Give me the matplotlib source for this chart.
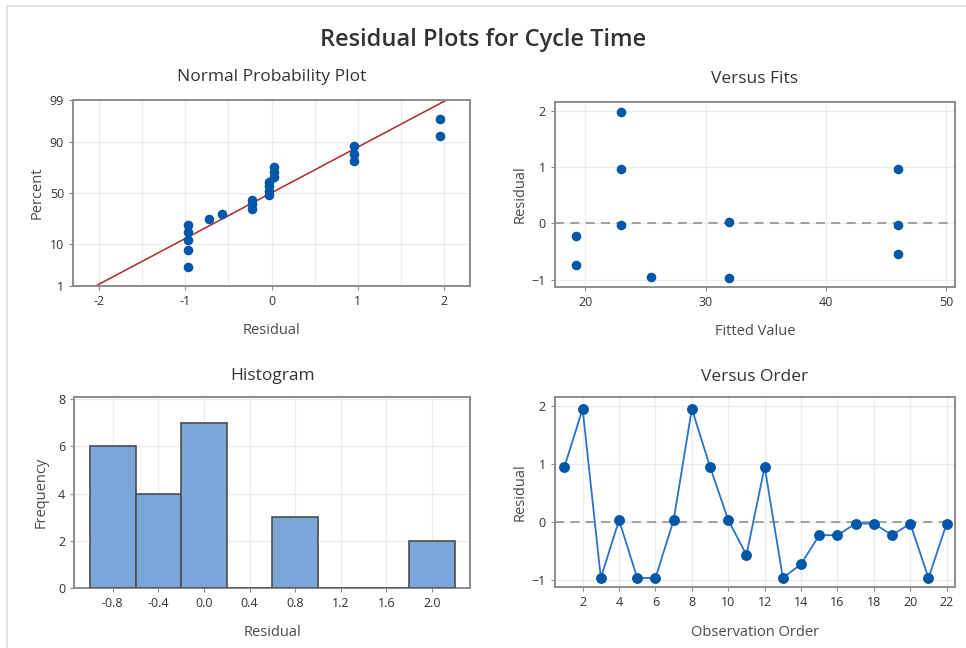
import matplotlib
matplotlib.use("Agg")
import matplotlib.pyplot as plt
import numpy as np
from statistics import NormalDist
from matplotlib.lines import Line2D

plt.rcParams['font.family'] = ['Open Sans', 'DejaVu Sans']

# ---- data ----
order = list(range(1, 23))
residuals = [0.95, 1.95, -0.97, 0.03, -0.97, -0.97, 0.03, 1.95, 0.95, 0.03, -0.57,
             0.95, -0.97, -0.73, -0.23, -0.23, -0.03, -0.03, -0.23, -0.03, -0.97, -0.03]
fitted_x = [19.25, 19.25, 23.0, 23.0, 23.0, 25.5, 31.95, 31.95, 45.95, 45.95, 45.95]
fitted_resid = [-0.23, -0.73, 1.97, 0.97, -0.03, -0.95, 0.03, -0.97, 0.97, -0.03, -0.54]
hist_edges = [-1.0, -0.6, -0.2, 0.2, 0.6, 1.0, 1.4, 1.8, 2.2]
prob_ticks = [1, 10, 50, 90, 99]
hist_xticks = [-0.8, -0.4, 0.0, 0.4, 0.8, 1.2, 1.6, 2.0]

DOT = '#0056A8'
TXT = '#333333'
LAB = '#4a4a4a'
SPINE = '#8c8c8c'
GRID = '#ececec'

fig = plt.figure(figsize=(9.66, 6.48), dpi=100)
fig.patch.set_facecolor('white')

def style(ax):
    for s in ax.spines.values():
        s.set_color(SPINE)
        s.set_linewidth(1.4)
    ax.tick_params(colors=SPINE, labelcolor=TXT, labelsize=9, length=3, width=0.8)
    ax.grid(True, color=GRID, linewidth=0.9)
    ax.set_axisbelow(True)

nd = NormalDist()

# ---- Normal probability plot ----
ax1 = fig.add_axes([0.0756, 0.5586, 0.411, 0.287])
r = np.sort(np.array(residuals))
n = len(r)
p = (np.arange(1, n + 1) - 0.3) / (n + 0.4)
z = np.array([nd.inv_cdf(v) for v in p])
mu = r.mean(); sd = r.std(ddof=1)
zlo, zhi = nd.inv_cdf(0.01), nd.inv_cdf(0.99)
xl = np.array([mu + zlo * sd, mu + zhi * sd])
ax1.plot(xl, [zlo, zhi], color='#B0262A', linewidth=1.1, zorder=2)
ax1.scatter(r, z, s=48, color=DOT, zorder=3, linewidths=0)
ax1.set_ylim(zlo, zhi)
ax1.set_xlim(-2.3, 2.3)
ax1.set_yticks([nd.inv_cdf(t / 100) for t in prob_ticks])
ax1.set_yticklabels([str(t) for t in prob_ticks])
ax1.set_xticks([-2, -1, 0, 1, 2])
ax1.set_xticklabels(['-2', '-1', '0', '1', '2'])
ax1.set_xticks([-1.5, -0.5, 0.5, 1.5], minor=True)
ax1.tick_params(which='minor', length=0)
style(ax1)
ax1.grid(True, which='minor', axis='x', color=GRID, linewidth=0.9)
ax1.set_xlabel('Residual', fontsize=10.5, color=LAB, labelpad=11)
ax1.set_ylabel('Percent', fontsize=10.5, color=LAB, labelpad=4)
ax1.set_title('Normal Probability Plot', fontsize=12.5, color=TXT, pad=14)

# ---- Versus fits ----
ax2 = fig.add_axes([0.5745, 0.557, 0.414, 0.2855])
ax2.axhline(0, color='#9a9a9a', linestyle=(0, (5, 3.5)), linewidth=1.3, zorder=2)
ax2.scatter(fitted_x, fitted_resid, s=48, color=DOT, zorder=3, linewidths=0)
ax2.set_xlim(17.5, 50.7)
ax2.set_ylim(-1.13, 2.15)
ax2.set_xticks([20, 30, 40, 50])
ax2.set_yticks([-1, 0, 1, 2])
style(ax2)
ax2.set_xlabel('Fitted Value', fontsize=10.5, color=LAB, labelpad=11)
ax2.set_ylabel('Residual', fontsize=10.5, color=LAB, labelpad=3)
ax2.set_title('Versus Fits', fontsize=12.5, color=TXT, pad=14)

# ---- Histogram ----
ax3 = fig.add_axes([0.0769, 0.0926, 0.410, 0.2948])
ax3.hist(residuals, bins=hist_edges, color='#7BA6DA', edgecolor='#4d4d4d',
         linewidth=1.2, zorder=3)
ax3.set_xlim(-1.137, 2.336)
ax3.set_ylim(0, 8.1)
ax3.set_xticks(hist_xticks)
ax3.set_xticklabels([f'{v:.1f}' for v in hist_xticks])
ax3.set_yticks([0, 2, 4, 6, 8])
style(ax3)
ax3.set_xlabel('Residual', fontsize=10.5, color=LAB, labelpad=11)
ax3.set_ylabel('Frequency', fontsize=10.5, color=LAB, labelpad=7)
ax3.set_title('Histogram', fontsize=12.5, color=TXT, pad=12)

# ---- Versus order ----
ax4 = fig.add_axes([0.5745, 0.0937, 0.414, 0.2932])
ax4.axhline(0, color='#9a9a9a', linestyle=(0, (5, 3.5)), linewidth=1.3, zorder=2)
ax4.plot(order, residuals, color='#2A72C8', linewidth=1.3, marker='o',
         markersize=6.8, markerfacecolor=DOT, markeredgecolor=DOT, zorder=3)
ax4.set_xlim(0.48, 22.45)
ax4.set_ylim(-1.13, 2.15)
ax4.set_xticks(list(range(2, 23, 2)))
ax4.set_yticks([-1, 0, 1, 2])
style(ax4)
ax4.set_xlabel('Observation Order', fontsize=10.5, color=LAB, labelpad=11)
ax4.set_ylabel('Residual', fontsize=10.5, color=LAB, labelpad=3)
ax4.set_title('Versus Order', fontsize=12.5, color=TXT, pad=12)

fig.text(0.5, 1 - 40 / 648, 'Residual Plots for Cycle Time', fontsize=17,
         fontweight='semibold', color=TXT, ha='center', va='center')

# light frame lines (left and top)
fig.add_artist(Line2D([7 / 966, 7 / 966], [0, 1 - 6 / 648], color='#dddddd', linewidth=1.2,
                      transform=fig.transFigure))
fig.add_artist(Line2D([7 / 966, 1], [1 - 6 / 648, 1 - 6 / 648], color='#dddddd', linewidth=1.2,
                      transform=fig.transFigure))

fig.savefig('out.png', dpi=100, facecolor='white')
